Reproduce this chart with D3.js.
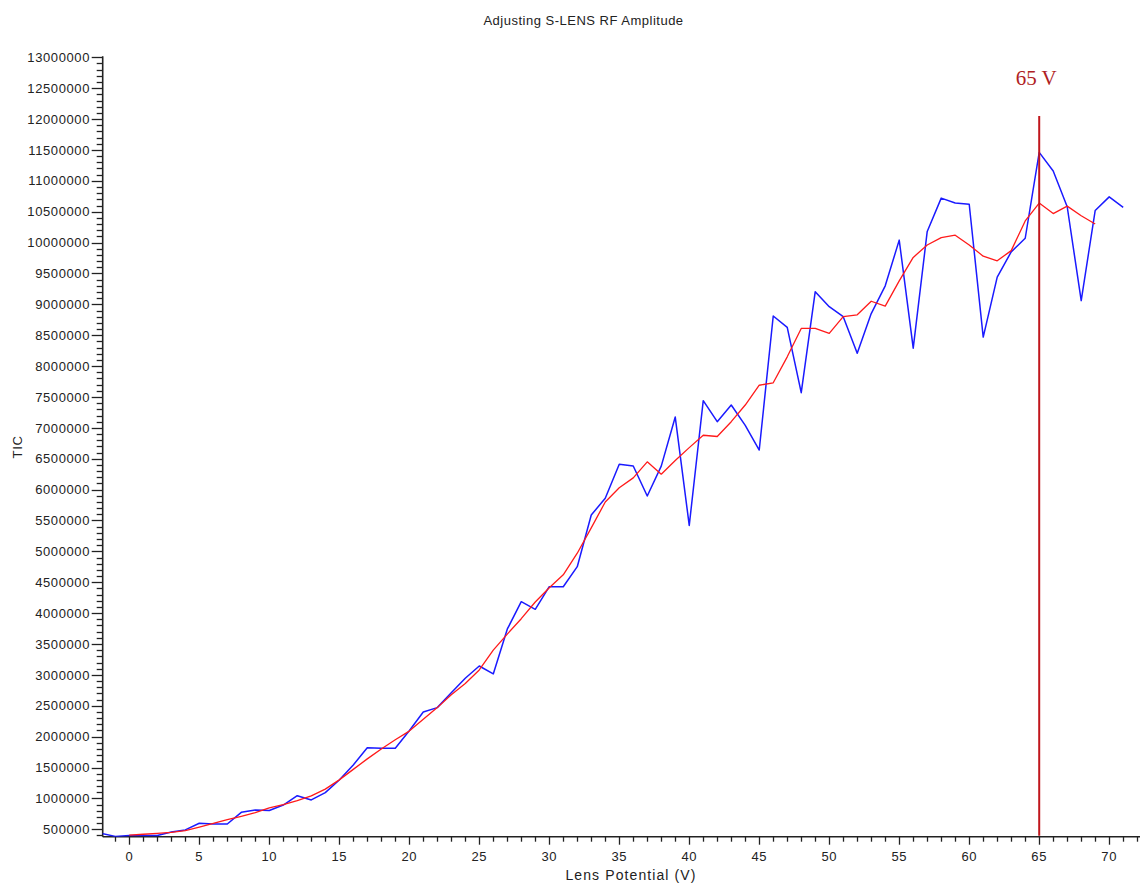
<!DOCTYPE html>
<html>
<head>
<meta charset="utf-8">
<script src="https://cdn.jsdelivr.net/npm/d3@7"></script>
<style>
  html, body { margin: 0; padding: 0; background: #fff; }
  svg { display: block; }
  text { font-family: "Liberation Sans", Arial, sans-serif; fill: #222; }
</style>
</head>
<body>
<svg id="chart" width="1143" height="885"></svg>
<script>
// Lens potential (V) for each measured TIC value
const blueX = d3.range(-2, 72);
const blueTIC = [
  435000, 385000, 400000, 400000, 400000, 455000, 490000, 597000, 585000, 585000,
  775000, 812000, 805000, 893000, 1044000, 975000, 1093000, 1298000, 1541000, 1821000,
  1811000, 1811000, 2095000, 2400000, 2470000, 2710000, 2945000, 3144000, 3015000, 3740000,
  4185000, 4062000, 4428000, 4428000, 4752000, 5589000, 5860000, 6410000, 6383000, 5897000,
  6380000, 7175000, 5420000, 7440000, 7100000, 7370000, 7040000, 6641000, 8811000, 8628000,
  7570000, 9205000, 8962000, 8800000, 8207000, 8850000, 9300000, 10040000, 8290000, 10180000,
  10720000, 10640000, 10620000, 8470000, 9440000, 9850000, 10070000, 11460000, 11160000, 10580000,
  9060000, 10520000, 10740000, 10570000
];

// Smoothed trace
const redX = d3.range(0, 70);
const redTIC = [
  405000, 420000, 435000, 450000, 480000, 535000, 595000, 655000, 710000, 770000,
  845000, 900000, 965000, 1040000, 1150000, 1300000, 1470000, 1640000, 1800000, 1950000,
  2090000, 2280000, 2470000, 2680000, 2860000, 3080000, 3400000, 3660000, 3910000, 4180000,
  4410000, 4620000, 4970000, 5380000, 5800000, 6030000, 6190000, 6450000, 6250000, 6470000,
  6680000, 6880000, 6860000, 7100000, 7370000, 7690000, 7730000, 8150000, 8610000, 8610000,
  8530000, 8800000, 8830000, 9050000, 8970000, 9380000, 9760000, 9960000, 10080000, 10120000,
  9960000, 9780000, 9705000, 9870000, 10350000, 10640000, 10470000, 10590000, 10435000, 10300000
];

const markerV = 65;
const markerLabel = "65 V";
const title = "Adjusting S-LENS RF Amplitude";
const xTitle = "Lens Potential (V)";
const yTitle = "TIC";

const xMajor = d3.range(0, 75, 5);
const xMinor = d3.range(-1, 73, 1);
const yMajor = d3.range(500000, 13000001, 500000);
const yMinor = d3.range(400000, 13000001, 100000);

const svg = d3.select("#chart");

const x = d3.scaleLinear().domain([-1.9, 72.2]).range([102.7, 1140]);
const y = d3.scaleLinear().domain([380000, 13000000]).range([836.7, 57.3]);

const plotLeft = x.range()[0], plotRight = x.range()[1];
const plotBottom = y.range()[0], plotTop = y.range()[1];

// clip the traces to the plotting area
svg.append("defs").append("clipPath").attr("id", "plot")
  .append("rect")
  .attr("x", plotLeft).attr("y", plotTop)
  .attr("width", plotRight - plotLeft).attr("height", plotBottom - plotTop);

// title
svg.append("text")
  .attr("x", 583.5).attr("y", 25)
  .attr("text-anchor", "middle")
  .style("font-size", "13px").style("letter-spacing", "0.5px")
  .text(title);

// Y axis
const yAxis = svg.append("g");
yAxis.append("line")
  .attr("x1", plotLeft).attr("x2", plotLeft)
  .attr("y1", plotTop - 1).attr("y2", plotBottom)
  .attr("stroke", "#222").attr("stroke-width", 1.6);
yAxis.selectAll("line.minor")
  .data(yMinor.filter(v => v % 500000 !== 0))
  .join("line").attr("class", "minor")
  .attr("x1", plotLeft - 6).attr("x2", plotLeft)
  .attr("y1", d => Math.round(y(d)) + 0.5).attr("y2", d => Math.round(y(d)) + 0.5)
  .attr("stroke", "#222").attr("stroke-width", 1.3);
yAxis.selectAll("line.major")
  .data(yMajor)
  .join("line").attr("class", "major")
  .attr("x1", plotLeft - 11).attr("x2", plotLeft)
  .attr("y1", d => Math.round(y(d)) + 0.5).attr("y2", d => Math.round(y(d)) + 0.5)
  .attr("stroke", "#222").attr("stroke-width", 1.3);
yAxis.selectAll("text")
  .data(yMajor)
  .join("text")
  .attr("x", 90).attr("y", d => y(d))
  .attr("dy", "0.36em")
  .attr("text-anchor", "end")
  .style("font-size", "13px").style("letter-spacing", "0.6px")
  .text(d => String(d));

svg.append("text")
  .attr("transform", `translate(22,447) rotate(-90)`)
  .attr("text-anchor", "middle")
  .style("font-size", "13px").style("letter-spacing", "0.6px")
  .text(yTitle);

// X axis
const xAxis = svg.append("g");
xAxis.append("line")
  .attr("x1", plotLeft).attr("x2", plotRight)
  .attr("y1", plotBottom).attr("y2", plotBottom)
  .attr("stroke", "#222").attr("stroke-width", 1.6);
xAxis.selectAll("line.minor")
  .data(xMinor.filter(v => v % 5 !== 0))
  .join("line").attr("class", "minor")
  .attr("x1", d => Math.round(x(d)) + 0.5).attr("x2", d => Math.round(x(d)) + 0.5)
  .attr("y1", plotBottom).attr("y2", plotBottom + 5)
  .attr("stroke", "#222").attr("stroke-width", 1.3);
xAxis.selectAll("line.major")
  .data(xMajor)
  .join("line").attr("class", "major")
  .attr("x1", d => Math.round(x(d)) + 0.5).attr("x2", d => Math.round(x(d)) + 0.5)
  .attr("y1", plotBottom).attr("y2", plotBottom + 8)
  .attr("stroke", "#222").attr("stroke-width", 1.3);
xAxis.selectAll("text")
  .data(xMajor)
  .join("text")
  .attr("x", d => x(d)).attr("y", 861)
  .attr("text-anchor", "middle")
  .style("font-size", "13px").style("letter-spacing", "0.6px")
  .text(d => String(d));

svg.append("text")
  .attr("x", 631).attr("y", 880)
  .attr("text-anchor", "middle")
  .style("font-size", "14px").style("letter-spacing", "1.1px")
  .text(xTitle);

// traces
const line = d3.line().x(d => x(d[0])).y(d => y(d[1]));
const plot = svg.append("g").attr("clip-path", "url(#plot)");

plot.append("path")
  .datum(blueX.map((v, i) => [v, blueTIC[i]]))
  .attr("d", line)
  .attr("fill", "none").attr("stroke", "#1a1aff").attr("stroke-width", 1.5)
  .attr("stroke-linejoin", "round");

plot.append("path")
  .datum(redX.map((v, i) => [v, redTIC[i]]))
  .attr("d", line)
  .attr("fill", "none").attr("stroke", "#ff1a1a").attr("stroke-width", 1.3)
  .attr("stroke-linejoin", "round");

// marker at the selected potential
svg.append("line")
  .attr("x1", x(markerV)).attr("x2", x(markerV))
  .attr("y1", 116).attr("y2", plotBottom - 1)
  .attr("stroke", "#c0161c").attr("stroke-width", 2);

svg.append("text")
  .attr("x", x(markerV) - 3).attr("y", 85)
  .attr("text-anchor", "middle")
  .style("font-family", "'Liberation Serif', 'Times New Roman', serif")
  .style("font-size", "21px")
  .style("fill", "#b01e24")
  .text(markerLabel);
</script>
</body>
</html>
